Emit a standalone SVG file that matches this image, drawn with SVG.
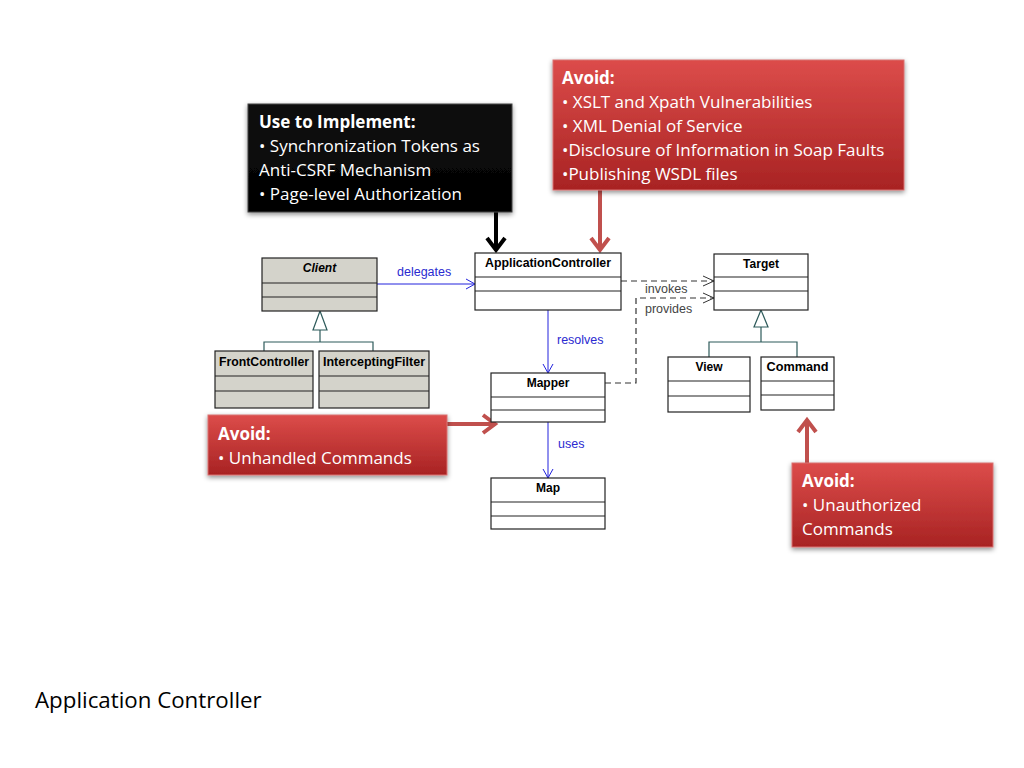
<svg xmlns="http://www.w3.org/2000/svg" width="1024" height="768" viewBox="0 0 1024 768">
<defs>
<linearGradient id="red" x1="0" y1="0" x2="0" y2="1">
<stop offset="0" stop-color="#dc4c4a"/>
<stop offset="1" stop-color="#a82323"/>
</linearGradient>
<linearGradient id="blk" x1="0" y1="0" x2="0" y2="1">
<stop offset="0" stop-color="#111"/>
<stop offset="1" stop-color="#000"/>
</linearGradient>
<filter id="sh" x="-10%" y="-10%" width="120%" height="130%">
<feDropShadow dx="0" dy="2" stdDeviation="2.5" flood-color="#000" flood-opacity="0.45"/>
</filter>
<marker id="open" markerWidth="12" markerHeight="12" refX="10" refY="6" orient="auto" markerUnits="userSpaceOnUse">
<polyline points="1,1 10,6 1,11" fill="none" stroke="#2222dd" stroke-width="1"/>
</marker>
<marker id="openg" markerWidth="14" markerHeight="12" refX="12" refY="6" orient="auto" markerUnits="userSpaceOnUse">
<polyline points="1,1 12,6 1,11" fill="none" stroke="#333" stroke-width="1"/>
</marker>
</defs>
<style>
.cls{fill:#fff;stroke:#222;stroke-width:1.2}
.gry{fill:#d4d3cb;stroke:#222;stroke-width:1.2}
.sep{stroke:#222;stroke-width:1.2}
.nm{font-family:"Liberation Sans",Arial,sans-serif;font-weight:bold;font-size:12px;fill:#000;text-anchor:middle}
.lbl{font-family:"Liberation Sans",Arial,sans-serif;font-size:12.5px;fill:#2a2ad0}
.lblg{font-family:"Liberation Sans",Arial,sans-serif;font-size:12.5px;fill:#444}
.gen{stroke:#2d5a5a;stroke-width:1.2;fill:none}
.tri{fill:#fff;stroke:#2d5a5a;stroke-width:1.2}
.note{font-family:"Open Sans","Noto Sans","Liberation Sans",sans-serif;font-size:17px;fill:#fff}
.nb{font-weight:bold}
.redbox{fill:url(#red);stroke:#d87070;stroke-width:1;filter:url(#sh)}
.rarrow{stroke:#c0504d;stroke-width:4;fill:none}
.barrow{stroke:#000;stroke-width:4;fill:none}
</style>
<rect width="1024" height="768" fill="#fff"/>

<g id="connectors">
<line x1="377" y1="284" x2="475" y2="284" stroke="#2222dd" stroke-width="1" marker-end="url(#open)"/>
<text class="lbl" x="397" y="276">delegates</text>
<line x1="548" y1="310" x2="548" y2="373" stroke="#2222dd" stroke-width="1" marker-end="url(#open)"/>
<text class="lbl" x="557" y="344">resolves</text>
<line x1="548" y1="422" x2="548" y2="478" stroke="#2222dd" stroke-width="1" marker-end="url(#open)"/>
<text class="lbl" x="558" y="448">uses</text>
<line x1="621" y1="281" x2="714" y2="281" stroke="#333" stroke-width="1.2" stroke-dasharray="6,4" marker-end="url(#openg)"/>
<text class="lblg" x="645" y="293">invokes</text>
<polyline points="605,383 636,383 636,298 714,298" fill="none" stroke="#333" stroke-width="1.2" stroke-dasharray="6,4" marker-end="url(#openg)"/>
<text class="lblg" x="645" y="313">provides</text>
<polyline class="gen" points="264,351 264,342 373,342 373,351"/>
<line class="gen" x1="320" y1="330" x2="320" y2="342"/>
<polygon class="tri" points="320,311 313,330 327,330"/>
<polyline class="gen" points="709,357 709,342 797,342 797,357"/>
<line class="gen" x1="761" y1="327" x2="761" y2="342"/>
<polygon class="tri" points="761,310 754,327 768,327"/>
<line class="barrow" x1="496" y1="212" x2="496" y2="248"/>
<polyline class="barrow" points="487,238 496,250 505,238"/>
<line class="rarrow" x1="600" y1="190" x2="600" y2="248"/>
<polyline class="rarrow" points="591,238 600,250 609,238"/>
<line class="rarrow" x1="447" y1="424" x2="493" y2="424"/>
<polyline class="rarrow" points="483,415 495,424 483,433"/>
<line class="rarrow" x1="807" y1="463" x2="807" y2="422"/>
<polyline class="rarrow" points="798,432 807,420 816,432"/>
</g>

<g id="client">
<rect class="gry" x="262" y="258" width="115" height="53"/>
<line class="sep" x1="262" y1="283" x2="377" y2="283"/>
<line class="sep" x1="262" y1="297" x2="377" y2="297"/>
<text class="nm" x="319.5" y="272" font-style="italic">Client</text>
</g>
<g id="frontcontroller">
<rect class="gry" x="215" y="351" width="98" height="57"/>
<line class="sep" x1="215" y1="376" x2="313" y2="376"/>
<line class="sep" x1="215" y1="391" x2="313" y2="391"/>
<text class="nm" x="264" y="366" textLength="90" lengthAdjust="spacingAndGlyphs">FrontController</text>
</g>
<g id="interceptingfilter">
<rect class="gry" x="319" y="351" width="110" height="57"/>
<line class="sep" x1="319" y1="376" x2="429" y2="376"/>
<line class="sep" x1="319" y1="391" x2="429" y2="391"/>
<text class="nm" x="374" y="366" textLength="102" lengthAdjust="spacingAndGlyphs">InterceptingFilter</text>
</g>
<g id="applicationcontroller">
<rect class="cls" x="475" y="253" width="146" height="57"/>
<line class="sep" x1="475" y1="277" x2="621" y2="277"/>
<line class="sep" x1="475" y1="291" x2="621" y2="291"/>
<text class="nm" x="548" y="267" textLength="126" lengthAdjust="spacingAndGlyphs">ApplicationController</text>
</g>
<g id="mapper">
<rect class="cls" x="491" y="373" width="114" height="49"/>
<line class="sep" x1="491" y1="397" x2="605" y2="397"/>
<line class="sep" x1="491" y1="410" x2="605" y2="410"/>
<text class="nm" x="548" y="387">Mapper</text>
</g>
<g id="map">
<rect class="cls" x="491" y="478" width="114" height="51"/>
<line class="sep" x1="491" y1="502" x2="605" y2="502"/>
<line class="sep" x1="491" y1="516" x2="605" y2="516"/>
<text class="nm" x="548" y="492">Map</text>
</g>
<g id="target">
<rect class="cls" x="714" y="254" width="94" height="56"/>
<line class="sep" x1="714" y1="277" x2="808" y2="277"/>
<line class="sep" x1="714" y1="291" x2="808" y2="291"/>
<text class="nm" x="761" y="268">Target</text>
</g>
<g id="view">
<rect class="cls" x="668" y="357" width="82" height="55"/>
<line class="sep" x1="668" y1="381" x2="750" y2="381"/>
<line class="sep" x1="668" y1="396" x2="750" y2="396"/>
<text class="nm" x="709" y="371">View</text>
</g>
<g id="command">
<rect class="cls" x="761" y="357" width="73" height="53"/>
<line class="sep" x1="761" y1="381" x2="834" y2="381"/>
<line class="sep" x1="761" y1="395" x2="834" y2="395"/>
<text class="nm" x="797.5" y="371" textLength="62" lengthAdjust="spacingAndGlyphs">Command</text>
</g>

<g id="note-implement">
<rect x="248" y="104" width="264" height="108" fill="url(#blk)" stroke="#444" stroke-width="1" filter="url(#sh)"/>
<text class="note nb" x="259" y="128">Use to Implement:</text>
<text class="note" x="259" y="152">• Synchronization Tokens as</text>
<text class="note" x="259" y="176">Anti-CSRF Mechanism</text>
<text class="note" x="259" y="200">• Page-level Authorization</text>
</g>
<g id="note-avoid-top">
<rect class="redbox" x="553" y="60" width="351" height="130"/>
<text class="note nb" x="562" y="84">Avoid:</text>
<text class="note" x="562" y="108">• XSLT and Xpath Vulnerabilities</text>
<text class="note" x="562" y="132">• XML Denial of Service</text>
<text class="note" x="562" y="156">•Disclosure of Information in Soap Faults</text>
<text class="note" x="562" y="180">•Publishing WSDL files</text>
</g>
<g id="note-avoid-left">
<rect class="redbox" x="208" y="415" width="239" height="60"/>
<text class="note nb" x="218" y="440">Avoid:</text>
<text class="note" x="218" y="464">• Unhandled Commands</text>
</g>
<g id="note-avoid-right">
<rect class="redbox" x="792" y="463" width="201" height="84"/>
<text class="note nb" x="802" y="487">Avoid:</text>
<text class="note" x="802" y="511">• Unauthorized</text>
<text class="note" x="802" y="535">Commands</text>
</g>

<text x="35" y="708" font-family="Open Sans,'Noto Sans','Liberation Sans',sans-serif" font-size="22.3px" fill="#000">Application Controller</text>
</svg>
